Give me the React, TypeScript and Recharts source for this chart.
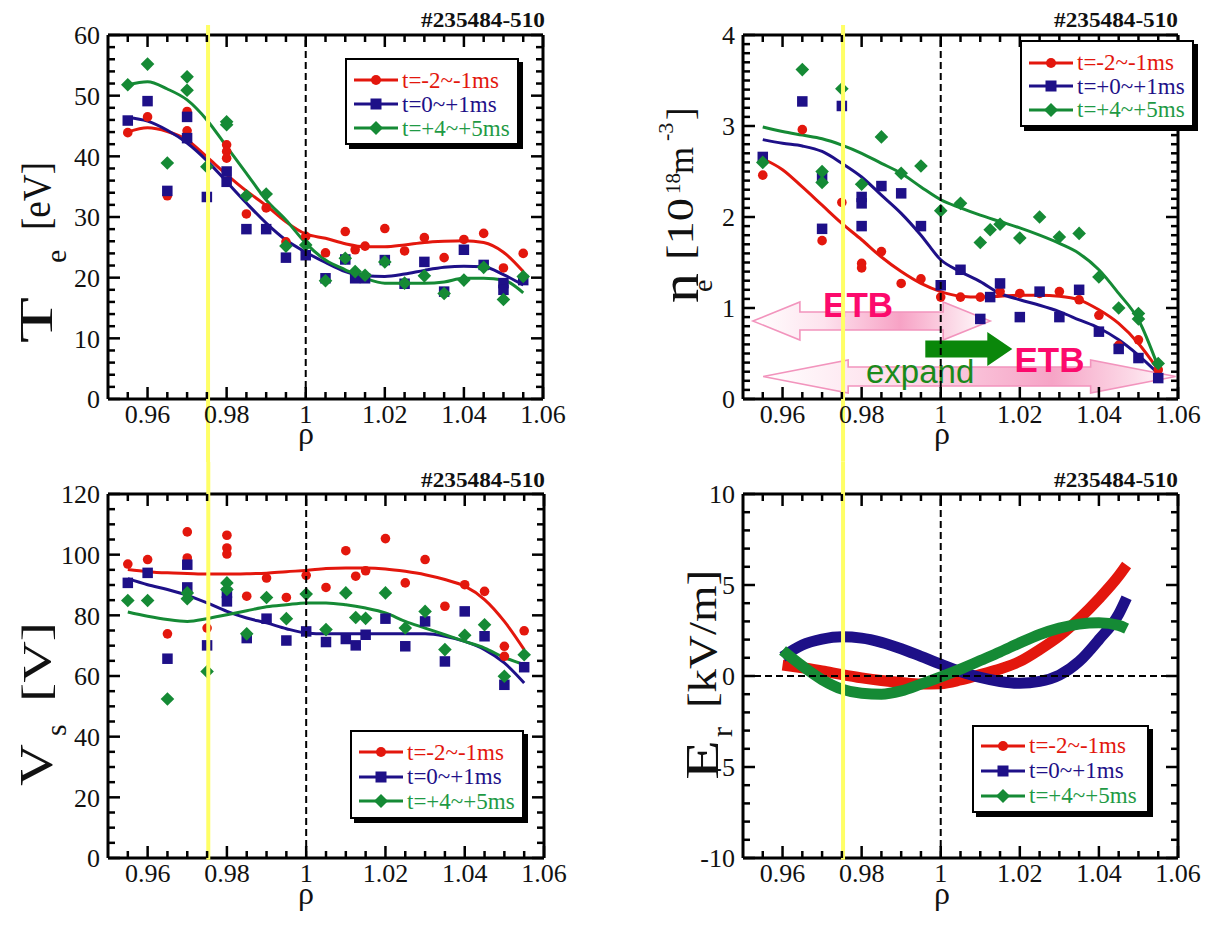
import React from 'react';
import {
  ComposedChart, XAxis, YAxis, Scatter, Line, ReferenceLine, ReferenceArea,
  ReferenceDot, Legend, Customized,
} from 'recharts';

// ---------------- data ----------------
const RED = '#e3170d';
const BLUE = '#1e1088';
const GREEN = '#158a35';
const GREEN_TEXT = '#1f9a45';
const YELLOW = '#ffff66';
const PINK_TEXT = '#fc0a6c';
const FONT = '"Liberation Serif", "DejaVu Serif", serif';
const SANS = '"Liberation Sans", Arial, sans-serif';

const SHOT = '#235484-510';
const LABELS_A = ['t=-2~-1ms', 't=0~+1ms', 't=+4~+5ms'];
const LABELS_B = ['t=-2~-1ms', 't=+0~+1ms', 't=+4~+5ms'];

const RHO_TICKS = [0.955, 0.96, 0.965, 0.97, 0.975, 0.98, 0.985, 0.99, 0.995, 1.0, 1.005, 1.01, 1.015, 1.02, 1.025, 1.03, 1.035, 1.04, 1.045, 1.05, 1.055, 1.06];
const YELLOW_RHO = 0.9753;

const FIT_RHO = [0.955, 0.96, 0.965, 0.97, 0.975, 0.98, 0.985, 0.99, 0.995, 1.0, 1.005, 1.01, 1.015, 1.02, 1.025, 1.03, 1.035, 1.04, 1.045, 1.05, 1.055];
const ER_RHO = [0.96, 0.965, 0.97, 0.975, 0.98, 0.985, 0.99, 0.995, 1.0, 1.005, 1.01, 1.015, 1.02, 1.025, 1.03, 1.035, 1.04, 1.045, 1.047];

// Te [eV]
const TE_RED_PTS = [[0.955, 43.9], [0.96, 46.5], [0.965, 33.5], [0.97, 47.4], [0.97, 44.2], [0.98, 41.9], [0.98, 40.8], [0.98, 39.7], [0.985, 30.5], [0.99, 31.5], [0.995, 25.9], [1.0, 26.8], [1.005, 24.1], [1.01, 27.6], [1.0125, 24.6], [1.015, 25.2], [1.02, 28.1], [1.025, 24.4], [1.03, 26.6], [1.035, 23.3], [1.04, 26.3], [1.045, 27.3], [1.05, 21.6], [1.055, 24.0]];
const TE_BLUE_PTS = [[0.955, 45.9], [0.96, 49.1], [0.965, 34.3], [0.97, 46.5], [0.97, 43.0], [0.975, 33.3], [0.98, 37.5], [0.98, 35.8], [0.985, 28.0], [0.99, 28.0], [0.995, 23.3], [1.0, 23.7], [1.005, 19.9], [1.01, 23.0], [1.0125, 19.9], [1.015, 19.9], [1.02, 22.9], [1.025, 19.0], [1.03, 22.6], [1.035, 17.7], [1.04, 24.6], [1.045, 22.1], [1.05, 19.1], [1.05, 18.0], [1.055, 19.6]];
const TE_GREEN_PTS = [[0.955, 51.8], [0.96, 55.2], [0.965, 38.9], [0.97, 53.1], [0.97, 50.9], [0.975, 38.3], [0.98, 45.7], [0.98, 45.2], [0.985, 33.5], [0.99, 33.8], [0.995, 25.2], [1.0, 25.4], [1.005, 19.5], [1.01, 23.2], [1.0125, 21.0], [1.015, 20.4], [1.02, 22.6], [1.025, 19.1], [1.03, 20.3], [1.035, 17.4], [1.04, 19.6], [1.045, 21.7], [1.05, 16.4], [1.055, 20.2]];
const TE_RED_FIT = [44, 44.7, 44.1, 42.7, 39.9, 37.0, 34.3, 31.9, 29.2, 27.2, 26.5, 25.6, 25.1, 25.1, 25.4, 25.8, 26.0, 26.1, 25.8, 24.2, 21.0];
const TE_BLUE_FIT = [46.4, 45.8, 44.3, 42.2, 39.3, 35.8, 32.3, 29.0, 26.2, 24.2, 22.5, 21.0, 20.3, 20.2, 20.6, 21.2, 21.7, 21.9, 21.8, 20.5, 18.8];
const TE_GREEN_FIT = [51.8, 52.3, 51.1, 49.3, 46.0, 41.6, 37.2, 32.8, 29.5, 25.7, 22.9, 21.3, 19.9, 19.1, 19.1, 19.1, 19.3, 19.9, 19.9, 19.6, 17.5];

// ne [1e18 m^-3]
const NE_RED_PTS = [[0.955, 2.46], [0.965, 2.96], [0.97, 1.74], [0.975, 2.16], [0.98, 1.49], [0.98, 1.44], [0.985, 1.62], [0.99, 1.27], [0.995, 1.32], [1.0, 1.12], [1.005, 1.12], [1.01, 1.12], [1.015, 1.18], [1.02, 1.16], [1.025, 1.16], [1.03, 1.18], [1.035, 1.09], [1.04, 0.92], [1.045, 0.59], [1.05, 0.65], [1.055, 0.32]];
const NE_BLUE_PTS = [[0.955, 2.66], [0.965, 3.27], [0.97, 2.43], [0.97, 1.87], [0.975, 3.22], [0.98, 2.22], [0.98, 2.15], [0.98, 1.90], [0.985, 2.34], [0.99, 2.26], [0.995, 1.90], [1.0, 1.25], [1.005, 1.42], [1.01, 0.88], [1.0125, 1.12], [1.015, 1.27], [1.02, 0.90], [1.025, 1.18], [1.03, 0.90], [1.035, 1.20], [1.04, 0.74], [1.045, 0.55], [1.05, 0.45], [1.055, 0.23]];
const NE_GREEN_PTS = [[0.955, 2.60], [0.965, 3.62], [0.97, 2.50], [0.97, 2.38], [0.975, 3.41], [0.98, 2.36], [0.985, 2.88], [0.99, 2.48], [0.995, 2.56], [1.0, 2.07], [1.005, 2.15], [1.01, 1.72], [1.0125, 1.86], [1.015, 1.92], [1.02, 1.77], [1.025, 2.00], [1.03, 1.78], [1.035, 1.82], [1.04, 1.34], [1.045, 1.00], [1.05, 0.94], [1.05, 0.88], [1.055, 0.39]];
const NE_RED_FIT = [2.64, 2.52, 2.33, 2.13, 1.93, 1.75, 1.56, 1.40, 1.27, 1.18, 1.13, 1.12, 1.13, 1.14, 1.14, 1.13, 1.09, 0.98, 0.83, 0.61, 0.32];
const NE_BLUE_FIT = [2.85, 2.81, 2.78, 2.72, 2.59, 2.44, 2.24, 2.04, 1.80, 1.53, 1.40, 1.29, 1.16, 1.09, 1.03, 0.96, 0.87, 0.78, 0.65, 0.48, 0.28];
const NE_GREEN_FIT = [2.99, 2.94, 2.90, 2.86, 2.79, 2.70, 2.59, 2.48, 2.33, 2.19, 2.10, 2.02, 1.95, 1.88, 1.80, 1.71, 1.60, 1.42, 1.16, 0.87, 0.35];

// Vs [V]
const VS_RED_PTS = [[0.955, 96.9], [0.96, 98.4], [0.965, 73.9], [0.97, 107.5], [0.97, 98.9], [0.975, 75.8], [0.98, 106.4], [0.98, 102.2], [0.98, 100.2], [0.985, 86.3], [0.99, 92.3], [0.995, 85.9], [1.0, 93.2], [1.005, 89.2], [1.01, 101.3], [1.0125, 92.9], [1.015, 94.7], [1.02, 105.3], [1.025, 90.7], [1.03, 98.4], [1.035, 83.0], [1.04, 90.1], [1.045, 87.9], [1.05, 69.8], [1.05, 66.5], [1.055, 74.9]];
const VS_BLUE_PTS = [[0.955, 90.7], [0.96, 94.0], [0.965, 65.7], [0.97, 96.7], [0.97, 89.2], [0.975, 70.1], [0.98, 87.4], [0.98, 84.6], [0.985, 72.5], [0.99, 78.9], [0.995, 71.7], [1.0, 74.7], [1.005, 71.2], [1.01, 72.2], [1.0125, 70.1], [1.015, 73.6], [1.02, 78.9], [1.025, 69.8], [1.03, 78.0], [1.035, 64.8], [1.04, 81.3], [1.045, 73.1], [1.05, 57.1], [1.055, 62.9]];
const VS_GREEN_PTS = [[0.955, 84.9], [0.96, 84.9], [0.965, 52.4], [0.97, 87.4], [0.97, 85.5], [0.975, 61.5], [0.98, 90.7], [0.98, 88.5], [0.985, 73.9], [0.99, 85.9], [0.995, 78.9], [1.0, 87.0], [1.005, 75.3], [1.01, 87.4], [1.0125, 79.3], [1.015, 79.0], [1.02, 87.4], [1.025, 75.8], [1.03, 81.3], [1.035, 68.7], [1.04, 73.4], [1.045, 76.9], [1.05, 59.9], [1.055, 67.0]];
const VS_RED_FIT = [95.1, 94.4, 94.0, 93.8, 93.6, 93.6, 93.7, 93.9, 94.4, 94.8, 95.4, 95.6, 95.6, 95.3, 94.5, 93.4, 91.8, 89.6, 85.2, 78.0, 68.7];
const VS_BLUE_FIT = [92.1, 90.1, 88.5, 86.6, 84.1, 81.3, 79.1, 77.5, 75.6, 74.2, 73.9, 73.9, 73.9, 73.9, 73.9, 73.9, 73.1, 71.4, 68.7, 64.3, 57.7];
const VS_GREEN_FIT = [81.1, 79.7, 78.6, 78.0, 78.9, 80.2, 81.5, 82.8, 83.5, 84.1, 84.1, 83.5, 82.4, 80.8, 78.0, 75.8, 73.6, 71.4, 69.2, 66.1, 63.7];

// Er [kV/m]
const ER_RED = [0.6, 0.45, 0.28, 0.08, -0.1, -0.25, -0.36, -0.44, -0.42, -0.22, 0.08, 0.38, 0.8, 1.45, 2.2, 3.15, 4.25, 5.5, 6.1];
const ER_BLUE = [1.05, 1.7, 2.02, 2.15, 2.08, 1.85, 1.5, 1.08, 0.65, 0.25, -0.08, -0.3, -0.4, -0.3, 0.05, 0.8, 2.0, 3.4, 4.3];
const ER_GREEN = [1.4, 0.55, -0.2, -0.72, -0.95, -1.0, -0.82, -0.45, -0.05, 0.38, 0.85, 1.32, 1.82, 2.28, 2.63, 2.85, 2.92, 2.78, 2.6];

// annotation of the density panel (data coordinates)
const ANN_ARROWS = [
  { id: 'etbUpper', x1: 0.9525, x2: 1.0125, y1: 0.648, y2: 1.066, head: 47, shaft: 18, kind: 'pinkA' },
  { id: 'etbLower', x1: 0.9551, x2: 1.0594, y1: 0.066, y2: 0.429, head: 85, shaft: 19, kind: 'pinkB' },
  { id: 'expandArrow', x1: 0.9961, x2: 1.0181, y1: 0.363, y2: 0.736, head: 25, shaft: 17, kind: 'green' },
];
const ANN_TEXTS = [
  { text: 'ETB', x: 0.9791, y: 0.904, color: PINK_TEXT, bold: true, size: 35 },
  { text: 'ETB', x: 1.0275, y: 0.30, color: PINK_TEXT, bold: true, size: 35 },
  { text: 'expand', x: 0.9948, y: 0.172, color: '#1a8a1a', bold: false, size: 33 },
];

// ---------------- helpers ----------------
const range = (a: number, b: number, s: number) => {
  const out: number[] = [];
  const n = Math.round((b - a) / s);
  for (let i = 0; i <= n; i++) out.push(+(a + i * s).toFixed(6));
  return out;
};
const pts = (arr: number[][]) => arr.map(([x, y]) => ({ x, y }));
const fit = (xs: number[], ys: number[]) => xs.map((x, i) => ({ x, y: ys[i] }));
const fmtRho = (v: number) => (Math.abs(v - 1) < 1e-9 ? '1' : v.toFixed(2));

type Orient = 'bottom' | 'top' | 'left' | 'right';
function makeTick(orient: Orient, step: number, margin: number, withLabel: boolean, fmt?: (v: number) => string) {
  return (props: any) => {
    const { x, y, payload } = props;
    const v = Number(payload?.value);
    const major = Math.abs(v / step - Math.round(v / step)) < 1e-6;
    const len = major ? 12 : 7;
    let x1 = x, y1 = y, x2 = x, y2 = y;
    if (orient === 'bottom') { y1 = y - margin; y2 = y1 - len; }
    if (orient === 'top') { y1 = y + margin; y2 = y1 + len; }
    if (orient === 'left') { x1 = x + margin; x2 = x1 + len; }
    if (orient === 'right') { x1 = x - margin; x2 = x1 - len; }
    return (
      <g>
        <line x1={x1} y1={y1} x2={x2} y2={y2} stroke="#000" strokeWidth={2.5} />
        {withLabel && major ? (
          <text x={x} y={y} dy={orient === 'bottom' ? '0.71em' : '0.355em'}
            textAnchor={orient === 'bottom' ? 'middle' : 'end'}
            fontSize={26} fontFamily={FONT} fill="#111">
            {fmt ? fmt(v) : String(v)}
          </text>
        ) : null}
      </g>
    );
  };
}

const circleShape = (color: string, r = 4.8) => (p: any) =>
  p.cx == null ? <g /> : <circle cx={p.cx} cy={p.cy} r={r} fill={color} />;
const squareShape = (color: string, s = 10.5) => (p: any) =>
  p.cx == null ? <g /> : <rect x={p.cx - s / 2} y={p.cy - s / 2} width={s} height={s} fill={color} />;
const diamondShape = (color: string, h = 6.8) => (p: any) =>
  p.cx == null ? <g /> : <path d={`M${p.cx},${p.cy - h}L${p.cx + h},${p.cy}L${p.cx},${p.cy + h}L${p.cx - h},${p.cy}Z`} fill={color} />;

const COLORS = [RED, BLUE, GREEN];
const TEXT_COLORS = [RED, BLUE, GREEN_TEXT];

function LegendMarker({ i }: { i: number }) {
  const c = COLORS[i];
  return (
    <svg width={46} height={16} style={{ display: 'block' }}>
      <line x1={1} x2={45} y1={8} y2={8} stroke={c} strokeWidth={3} />
      {i === 0 && <circle cx={23} cy={8} r={5} fill={c} />}
      {i === 1 && <rect x={17.5} y={2.5} width={11} height={11} fill={c} />}
      {i === 2 && <path d="M23,1 L30,8 L23,15 L16,8 Z" fill={c} />}
    </svg>
  );
}

function LegendBox({ labels, rowH, padTop, width }: { labels: string[]; rowH: number; padTop: number; width: number }) {
  return (
    <div style={{
      width, boxSizing: 'border-box', border: '2px solid #000', boxShadow: '4px 4px 0 #000',
      background: '#fff', padding: `${padTop}px 4px 3px 6px`, fontFamily: FONT,
    }}>
      {labels.map((lab, i) => (
        <div key={lab} style={{ display: 'flex', alignItems: 'center', height: rowH }}>
          <LegendMarker i={i} />
          <span style={{ color: TEXT_COLORS[i], fontSize: 23, marginLeft: 3, whiteSpace: 'nowrap', lineHeight: 1 }}>{lab}</span>
        </div>
      ))}
    </div>
  );
}

function doubleArrowShape(head: number, shaft: number, kind: string, gid: string) {
  return (p: any) => {
    const { x, y, width: w, height: h } = p;
    if (x == null) return <g />;
    const cy = y + h / 2;
    const s = shaft / 2;
    if (kind === 'green') {
      const ptsG = [[x, cy - s], [x + w - head, cy - s], [x + w - head, y], [x + w, cy], [x + w - head, y + h], [x + w - head, cy + s], [x, cy + s]];
      return <polygon points={ptsG.map((q) => q.join(',')).join(' ')} fill="#0a870a" />;
    }
    const ptsP = [[x, cy], [x + head, y], [x + head, cy - s], [x + w - head, cy - s], [x + w - head, y], [x + w, cy],
      [x + w - head, y + h], [x + w - head, cy + s], [x + head, cy + s], [x + head, y + h]];
    const stops = kind === 'pinkA'
      ? [[0, '#ffffff'], [0.3, '#fde3ee'], [0.62, '#f7a2c5'], [0.85, '#fcdbe8'], [1, '#ffffff']]
      : [[0, '#ffffff'], [0.3, '#fde0ec'], [0.7, '#f6a4c6'], [0.9, '#fcdbe8'], [1, '#ffffff']];
    return (
      <g>
        <defs>
          <linearGradient id={gid} x1="0" y1="0" x2="1" y2="0">
            {stops.map(([o, c]) => <stop key={String(o)} offset={o as number} stopColor={c as string} />)}
          </linearGradient>
        </defs>
        <polygon points={ptsP.map((q) => q.join(',')).join(' ')} fill={`url(#${gid})`} stroke="#f294bd" strokeWidth={1.6} />
      </g>
    );
  };
}

const textShape = (t: typeof ANN_TEXTS[number]) => (p: any) =>
  p.cx == null ? <g /> : (
    <text x={p.cx} y={p.cy} textAnchor="middle" fontFamily={SANS} fontWeight={t.bold ? 700 : 400}
      fontSize={t.size} fill={t.color}>{t.text}</text>
  );

type Piece = { t: string; s: number; b: number; f: number; len?: number };

type SeriesDef = { pts: number[][]; fit: { x: number; y: number }[]; thick?: boolean };

type PanelCfg = {
  key: string; left: number; top: number; width: number; height: number;
  plot: { l: number; r: number; t: number; b: number };
  yDomain: [number, number]; yTicks: number[]; yMajor: number; yFmt?: (v: number) => string;
  series: SeriesDef[];
  yellow: [number, number];
  zeroLine?: boolean;
  legend: { x: number; y: number; w: number; rowH: number; padTop: number; labels: string[] };
  ylabel: Piece[];
  rho: { x: number; y: number };
  title: { x: number; y: number };
  annotate?: boolean;
};

const PANELS: PanelCfg[] = [
  {
    key: 'te', left: 0, top: 0, width: 600, height: 462,
    plot: { l: 108, r: 543, t: 35, b: 399 },
    yDomain: [0, 60], yTicks: range(0, 60, 2), yMajor: 10,
    series: [
      { pts: TE_RED_PTS, fit: fit(FIT_RHO, TE_RED_FIT) },
      { pts: TE_BLUE_PTS, fit: fit(FIT_RHO, TE_BLUE_FIT) },
      { pts: TE_GREEN_PTS, fit: fit(FIT_RHO, TE_GREEN_FIT) },
    ],
    yellow: [61.65, -10.4],
    legend: { x: 345, y: 58, w: 174, rowH: 24, padTop: 8, labels: LABELS_A },
    ylabel: [{ t: 'T', s: 343, b: 52, f: 46, len: 46 }, { t: 'e', s: 263, b: 66, f: 30 }, { t: '[eV]', s: 230, b: 50, f: 40, len: 68 }],
    rho: { x: 306, y: 444 }, title: { x: 545, y: 27 },
  },
  {
    key: 'ne', left: 600, top: 0, width: 607, height: 462,
    plot: { l: 143, r: 578, t: 35, b: 399 },
    yDomain: [0, 4], yTicks: range(0, 4, 0.1), yMajor: 1,
    series: [
      { pts: NE_RED_PTS, fit: fit(FIT_RHO, NE_RED_FIT) },
      { pts: NE_BLUE_PTS, fit: fit(FIT_RHO, NE_BLUE_FIT) },
      { pts: NE_GREEN_PTS, fit: fit(FIT_RHO, NE_GREEN_FIT) },
    ],
    yellow: [4.11, -0.69],
    legend: { x: 420, y: 40, w: 174, rowH: 23.5, padTop: 9, labels: LABELS_B },
    ylabel: [
      { t: 'n', s: 303, b: 698, f: 54, len: 30 }, { t: 'e', s: 292, b: 712, f: 28 },
      { t: '[10', s: 260, b: 693, f: 38, len: 62 }, { t: '18', s: 194, b: 680, f: 21 },
      { t: 'm', s: 174, b: 693, f: 36, len: 27 }, { t: '-3', s: 141, b: 673, f: 22 },
      { t: ']', s: 120, b: 693, f: 38 },
    ],
    rho: { x: 942, y: 444 }, title: { x: 1178, y: 27 }, annotate: true,
  },
  {
    key: 'vs', left: 0, top: 462, width: 600, height: 463,
    plot: { l: 108, r: 544, t: 32, b: 396 },
    yDomain: [0, 120], yTicks: range(0, 120, 5), yMajor: 20,
    series: [
      { pts: VS_RED_PTS, fit: fit(FIT_RHO, VS_RED_FIT) },
      { pts: VS_BLUE_PTS, fit: fit(FIT_RHO, VS_BLUE_FIT) },
      { pts: VS_GREEN_PTS, fit: fit(FIT_RHO, VS_GREEN_FIT) },
    ],
    yellow: [130.6, -0.6],
    legend: { x: 350, y: 268, w: 174, rowH: 24.5, padTop: 8, labels: LABELS_A },
    ylabel: [{ t: 'V', s: 786, b: 52, f: 46, len: 42 }, { t: 's', s: 736, b: 66, f: 30 }, { t: '[V]', s: 702, b: 50, f: 40, len: 80 }],
    rho: { x: 306, y: 904 }, title: { x: 545, y: 487 },
  },
  {
    key: 'er', left: 600, top: 462, width: 607, height: 463,
    plot: { l: 143, r: 578, t: 32, b: 396 },
    yDomain: [-10, 10], yTicks: range(-10, 10, 1), yMajor: 5,
    series: [
      { pts: [], fit: fit(ER_RHO, ER_RED), thick: true },
      { pts: [], fit: fit(ER_RHO, ER_BLUE), thick: true },
      { pts: [], fit: fit(ER_RHO, ER_GREEN), thick: true },
    ],
    yellow: [11.77, -10.1], zeroLine: true,
    legend: { x: 372, y: 263, w: 177, rowH: 25, padTop: 6, labels: LABELS_A },
    ylabel: [{ t: 'E', s: 780, b: 718, f: 46, len: 40 }, { t: 'r', s: 737, b: 732, f: 30 }, { t: '[kV/m]', s: 708, b: 716, f: 40, len: 138 }],
    rho: { x: 942, y: 904 }, title: { x: 1178, y: 487 },
  },
];

const SHAPES = [circleShape, squareShape, diamondShape];

function Panel({ cfg }: { cfg: PanelCfg }) {
  const { plot, width, height } = cfg;
  const margin = {
    left: plot.l - 40,
    top: plot.t - 1,
    right: width - plot.r - 1,
    bottom: height - plot.b - 30,
  };
  const axisLine = { stroke: '#000', strokeWidth: 3 };
  const ox = cfg.left, oy = cfg.top;
  return (
    <div style={{ position: 'absolute', left: cfg.left, top: cfg.top }}>
      <ComposedChart width={width} height={height} margin={margin}>
        <XAxis xAxisId={0} type="number" dataKey="x" orientation="bottom" height={30}
          domain={[0.95, 1.06]} allowDataOverflow ticks={RHO_TICKS} interval={0}
          tickSize={0} tickMargin={6} tickLine={false} axisLine={axisLine}
          tick={makeTick('bottom', 0.02, 6, true, fmtRho)} />
        <XAxis xAxisId="top" type="number" dataKey="x" orientation="top" height={1}
          domain={[0.95, 1.06]} allowDataOverflow ticks={RHO_TICKS} interval={0}
          tickSize={0} tickMargin={0} tickLine={false} axisLine={axisLine}
          tick={makeTick('top', 0.02, 0, false)} />
        <YAxis yAxisId={0} type="number" orientation="left" width={40}
          domain={cfg.yDomain} allowDataOverflow ticks={cfg.yTicks} interval={0}
          tickSize={0} tickMargin={8} tickLine={false} axisLine={axisLine}
          tick={makeTick('left', cfg.yMajor, 8, true, cfg.yFmt)} />
        <YAxis yAxisId="right" type="number" orientation="right" width={1}
          domain={cfg.yDomain} allowDataOverflow ticks={cfg.yTicks} interval={0}
          tickSize={0} tickMargin={0} tickLine={false} axisLine={axisLine}
          tick={makeTick('right', cfg.yMajor, 0, false)} />

        {cfg.annotate && ANN_ARROWS.map((a) => (
          <ReferenceArea key={a.id} x1={a.x1} x2={a.x2} y1={a.y1} y2={a.y2} ifOverflow="visible"
            shape={doubleArrowShape(a.head, a.shaft, a.kind, `grad-${a.id}`)} />
        ))}

        {cfg.series.map((s, i) => (
          <Line key={`fit${i}`} data={s.fit} dataKey="y" type="monotone" stroke={COLORS[i]}
            strokeWidth={s.thick ? 11 : 3} dot={false} activeDot={false} isAnimationActive={false}
            strokeLinecap="butt" />
        ))}
        {cfg.series.map((s, i) => (s.pts.length ? (
          <Scatter key={`pts${i}`} data={pts(s.pts)} dataKey="y" fill={COLORS[i]}
            shape={SHAPES[i](COLORS[i])} isAnimationActive={false} />
        ) : null))}

        {cfg.annotate && ANN_TEXTS.map((t, i) => (
          <ReferenceDot key={`t${i}`} x={t.x} y={t.y} r={0} ifOverflow="visible" shape={textShape(t)} />
        ))}

        <ReferenceLine x={1} stroke="#000" strokeWidth={2} strokeDasharray="7 4" {...({ zIndex: 1400 } as any)} />
        {cfg.zeroLine && (
          <ReferenceLine y={0} stroke="#000" strokeWidth={2} strokeDasharray="7 4" {...({ zIndex: 1400 } as any)} />
        )}
        <ReferenceLine ifOverflow="visible" stroke={YELLOW} strokeWidth={4}
          segment={[{ x: YELLOW_RHO, y: cfg.yellow[0] }, { x: YELLOW_RHO, y: cfg.yellow[1] }]}
          {...({ zIndex: 1500 } as any)} />

        <Legend layout="vertical" align="center" verticalAlign="middle"
          wrapperStyle={{ left: cfg.legend.x, top: cfg.legend.y, width: cfg.legend.w }}
          content={() => (
            <LegendBox labels={cfg.legend.labels} rowH={cfg.legend.rowH} padTop={cfg.legend.padTop} width={cfg.legend.w} />
          )} />

        <Customized component={() => (
          <g fontFamily={FONT} fill="#111">
            {cfg.ylabel.map((pc, i) => (
              <text key={i} transform={`translate(${pc.b - ox},${pc.s - oy}) rotate(-90)`} fontSize={pc.f}
                {...(pc.len ? { textLength: pc.len, lengthAdjust: 'spacingAndGlyphs' } : {})}>{pc.t}</text>
            ))}
            <text x={cfg.rho.x - ox} y={cfg.rho.y - oy} textAnchor="middle" fontSize={32}>ρ</text>
            <text x={cfg.title.x - ox} y={cfg.title.y - oy} textAnchor="end" fontSize={21} fontWeight={700}
              textLength={124} lengthAdjust="spacingAndGlyphs">{SHOT}</text>
          </g>
        )} />
      </ComposedChart>
    </div>
  );
}

export default function App() {
  return (
    <div style={{ position: 'absolute', left: 0, top: 0, width: 1207, height: 925, background: '#fff', overflow: 'hidden' }}>
      {PANELS.map((p) => <Panel key={p.key} cfg={p} />)}
    </div>
  );
}
